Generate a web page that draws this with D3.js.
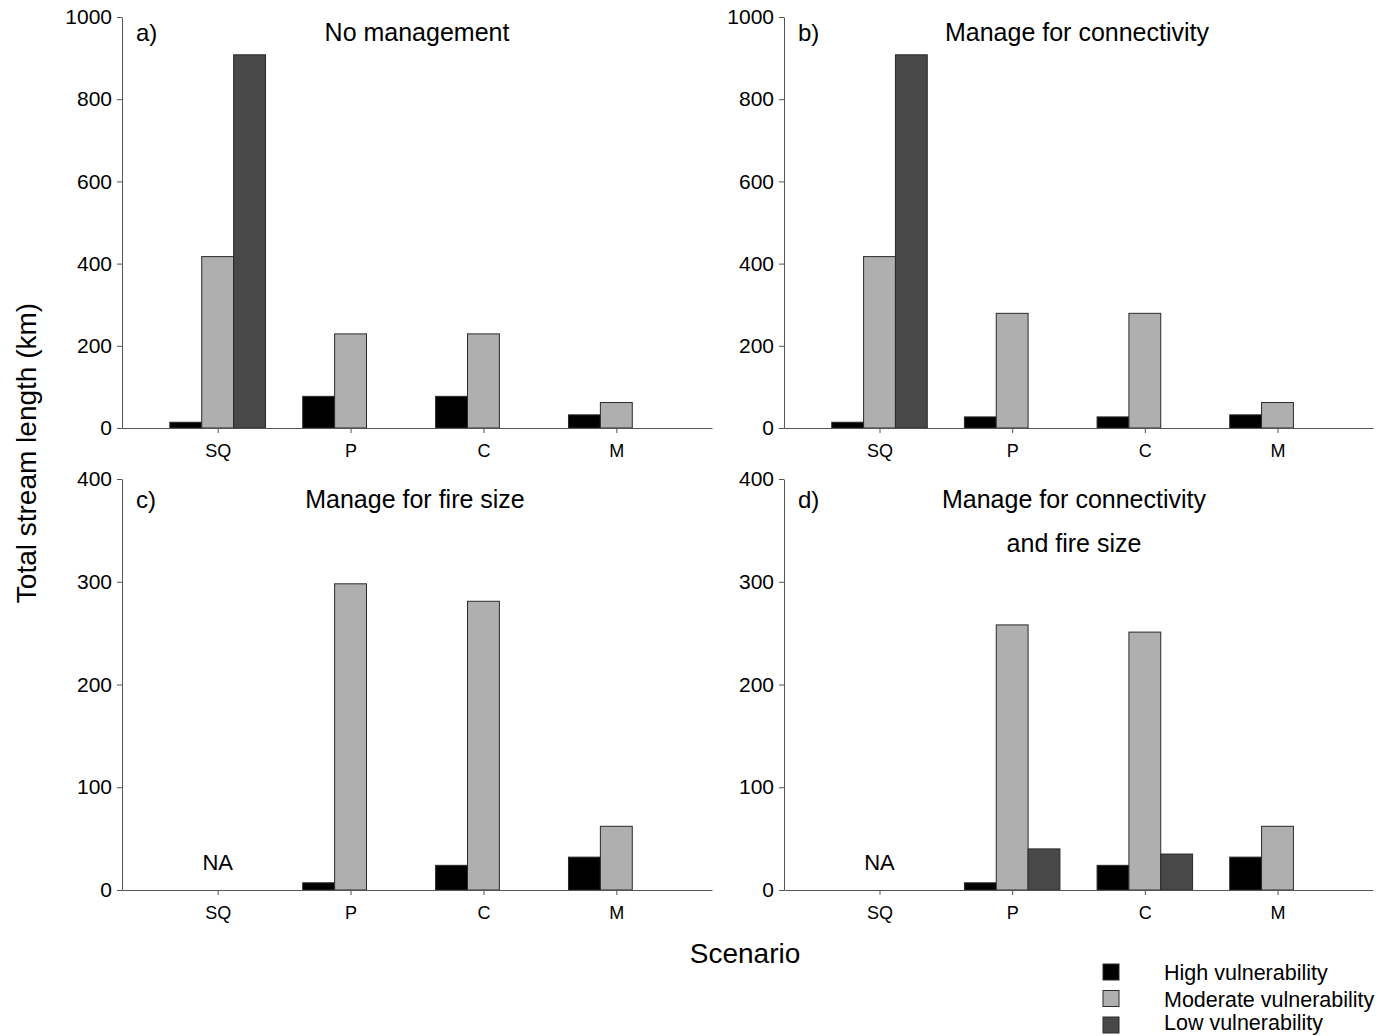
<!DOCTYPE html>
<html>
<head>
<meta charset="utf-8">
<script src="https://cdn.jsdelivr.net/npm/d3@7"></script>
<style>
  body { margin: 0; background: #fff; }
  svg { display: block; font-family: "Liberation Sans", Arial, sans-serif; }
</style>
</head>
<body>
<svg id="chart" width="1391" height="1036"></svg>
<script>
// Scenarios on the x axis and the three vulnerability classes
const categories = ["SQ", "P", "C", "M"];
const seriesNames = ["High vulnerability", "Moderate vulnerability", "Low vulnerability"];
const seriesColors = ["#000000", "#afafaf", "#484848"];

// Total stream length (km) per scenario; null = no bar
const aHigh = [14, 77, 77, 32];
const aModerate = [417, 229, 229, 62];
const aLow = [908, null, null, null];

const bHigh = [14, 27, 27, 32];
const bModerate = [417, 279, 279, 62];
const bLow = [908, null, null, null];

const cHigh = [null, 7, 24, 32];
const cModerate = [null, 298, 281, 62];
const cLow = [null, null, null, null];

const dHigh = [null, 7, 24, 32];
const dModerate = [null, 258, 251, 62];
const dLow = [null, 40, 35, null];

const ticksTop = [0, 200, 400, 600, 800, 1000];
const ticksBottom = [0, 100, 200, 300, 400];

const panels = [
  { tag: "a)", title: ["No management"], series: [aHigh, aModerate, aLow], max: 1000, ticks: ticksTop, na: false,
    x0: 122, x1: 712, yTop: 17, yBot: 428, titleX: 417, titleY: 41 },
  { tag: "b)", title: ["Manage for connectivity"], series: [bHigh, bModerate, bLow], max: 1000, ticks: ticksTop, na: false,
    x0: 784, x1: 1373, yTop: 17, yBot: 428, titleX: 1077, titleY: 41 },
  { tag: "c)", title: ["Manage for fire size"], series: [cHigh, cModerate, cLow], max: 400, ticks: ticksBottom, na: true,
    x0: 122, x1: 712, yTop: 479, yBot: 890, titleX: 415, titleY: 508 },
  { tag: "d)", title: ["Manage for connectivity", "and fire size"], series: [dHigh, dModerate, dLow], max: 400, ticks: ticksBottom, na: true,
    x0: 784, x1: 1373, yTop: 479, yBot: 890, titleX: 1074, titleY: 508 }
];

const svg = d3.select("#chart");
const axisColor = "#555";

panels.forEach(p => {
  const g = svg.append("g");
  const x = d3.scalePoint().domain(categories).range([p.x0, p.x1]).padding(0.72);
  const groupW = x.step() * 0.72;
  const xi = d3.scaleBand().domain(d3.range(3)).range([-groupW / 2, groupW / 2]).padding(0);
  const y = d3.scaleLinear().domain([0, p.max]).range([p.yBot, p.yTop]);

  // bars
  p.series.forEach((vals, si) => {
    g.selectAll(null)
      .data(vals.map((v, i) => ({ v, c: categories[i] })).filter(d => d.v !== null))
      .enter().append("rect")
      .attr("x", d => x(d.c) + xi(si))
      .attr("width", xi.bandwidth())
      .attr("y", d => y(d.v))
      .attr("height", d => y(0) - y(d.v))
      .attr("fill", seriesColors[si])
      .attr("stroke", "#2a2a2a")
      .attr("stroke-width", 1);
  });

  // y axis
  const yAxis = g.append("g")
    .attr("transform", `translate(${p.x0},0)`)
    .call(d3.axisLeft(y).tickValues(p.ticks).tickFormat(d3.format("d")).tickSize(5).tickPadding(5).tickSizeOuter(0));
  yAxis.selectAll("text").attr("font-size", 21).attr("fill", "#000").attr("font-family", "Liberation Sans, Arial, sans-serif");
  yAxis.selectAll("line, path").attr("stroke", axisColor);

  // x axis
  const xAxis = g.append("g")
    .attr("transform", `translate(0,${p.yBot})`)
    .call(d3.axisBottom(x).tickSize(5).tickPadding(11).tickSizeOuter(0));
  xAxis.selectAll("text").attr("font-size", 18).attr("fill", "#000").attr("font-family", "Liberation Sans, Arial, sans-serif");
  xAxis.selectAll("line, path").attr("stroke", axisColor);

  // panel tag and title
  g.append("text").attr("x", p.x0 + 14).attr("y", p.titleY)
    .attr("font-size", 24).text(p.tag);
  p.title.forEach((t, k) => {
    g.append("text").attr("x", p.titleX).attr("y", p.titleY + k * 44)
      .attr("text-anchor", "middle").attr("font-size", 25).text(t);
  });

  if (p.na) {
    g.append("text").attr("x", x("SQ")).attr("y", y(0) - 20)
      .attr("text-anchor", "middle").attr("font-size", 22).text("NA");
  }
});

// axis titles
svg.append("text")
  .attr("transform", "translate(36,453) rotate(-90)")
  .attr("text-anchor", "middle").attr("font-size", 28)
  .text("Total stream length (km)");

svg.append("text")
  .attr("x", 745).attr("y", 963)
  .attr("text-anchor", "middle").attr("font-size", 28)
  .text("Scenario");

// legend
const legend = svg.append("g");
seriesNames.forEach((name, i) => {
  const cy = 972 + i * 26.5;
  legend.append("rect").attr("x", 1103).attr("y", cy - 8).attr("width", 16).attr("height", 16)
    .attr("fill", seriesColors[i]).attr("stroke", "#2a2a2a").attr("stroke-width", 1);
  legend.append("text").attr("x", 1164).attr("y", Math.min(cy + 8, 1030))
    .attr("font-size", 21.5).text(name);
});
</script>
</body>
</html>
